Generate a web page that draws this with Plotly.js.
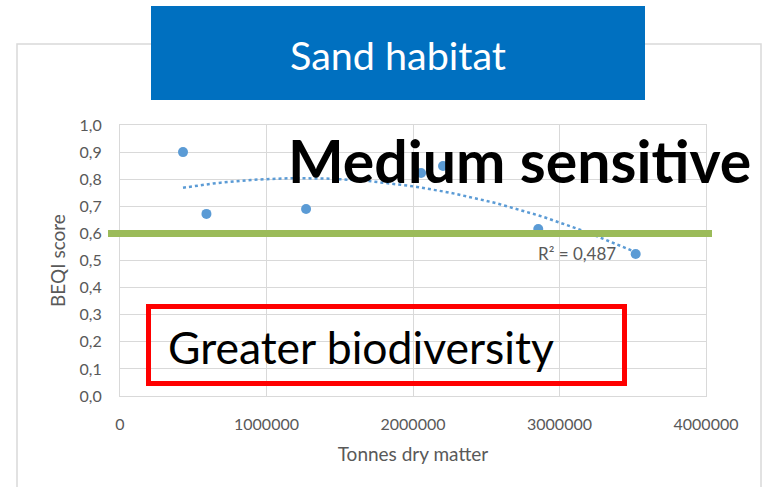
<!DOCTYPE html>
<html>
<head>
<meta charset="utf-8">
<script src="https://cdn.plot.ly/plotly-3.0.1.min.js"></script>
<style>html,body{margin:0;padding:0;background:#fff;}#chart{width:767px;height:487px;}</style>
</head>
<body>
<div id="chart"></div>
<script>
// ---- data ----
const tonnesDryMatter = [430000, 590000, 1270000, 2055000, 2205000, 2855000, 3520000];
const beqiScore       = [0.90, 0.672, 0.69, 0.823, 0.849, 0.616, 0.524];
const threshold = 0.6;
const yTickVals  = [0, 0.1, 0.2, 0.3, 0.4, 0.5, 0.6, 0.7, 0.8, 0.9, 1.0];
const yTickText  = ["0,0","0,1","0,2","0,3","0,4","0,5","0,6","0,7","0,8","0,9","1,0"];
const xTickVals  = [0, 1000000, 2000000, 3000000, 4000000];
const xTickText  = ["0","1000000","2000000","3000000","4000000"];
const chartTitle = "Sand habitat";
const r2Label = "R² = 0,487";

// ---- quadratic (order 2) least-squares trendline from the data ----
function polyFit2(xs, ys) {
  const s = xs.map(v => v / 1e6);
  let S = [0,0,0,0,0], T = [0,0,0];
  for (let i = 0; i < s.length; i++) {
    for (let k = 0; k < 5; k++) S[k] += Math.pow(s[i], k);
    for (let k = 0; k < 3; k++) T[k] += ys[i] * Math.pow(s[i], k);
  }
  const A = [[S[0],S[1],S[2],T[0]],[S[1],S[2],S[3],T[1]],[S[2],S[3],S[4],T[2]]];
  for (let c = 0; c < 3; c++) {
    for (let r = c + 1; r < 3; r++) {
      const f = A[r][c] / A[c][c];
      for (let k = c; k < 4; k++) A[r][k] -= f * A[c][k];
    }
  }
  const b = [0,0,0];
  for (let r = 2; r >= 0; r--) {
    let v = A[r][3];
    for (let k = r + 1; k < 3; k++) v -= A[r][k] * b[k];
    b[r] = v / A[r][r];
  }
  return x => { const t = x / 1e6; return b[0] + b[1]*t + b[2]*t*t; };
}
const fit = polyFit2(tonnesDryMatter, beqiScore);
const xMin = Math.min(...tonnesDryMatter), xMax = Math.max(...tonnesDryMatter);
const trendX = [], trendY = [];
for (let i = 0; i <= 60; i++) { const x = xMin + (xMax - xMin) * i / 60; trendX.push(x); trendY.push(fit(x)); }

// ---- layout geometry helpers (pixels -> paper) ----
const W = 767, H = 487, L = 120, R = 706, T = 125, B = 396;
const px = p => (p - L) / (R - L);
const py = p => (B - p) / (B - T);

const FONT = "Lato, 'Open Sans', sans-serif";
const GREY = "#595959";

const traces = [
  { x: tonnesDryMatter, y: beqiScore, type: "scatter", mode: "markers",
    marker: { color: "#5B9BD5", size: 10 }, hoverinfo: "x+y", showlegend: false },
  { x: trendX, y: trendY, type: "scatter", mode: "lines",
    line: { color: "#5B9BD5", width: 2.5, dash: "dot" }, hoverinfo: "skip", showlegend: false }
];

const layout = {
  width: W, height: H,
  margin: { l: L, r: W - R, t: T, b: H - B, pad: 0 },
  paper_bgcolor: "#ffffff", plot_bgcolor: "#ffffff",
  font: { family: FONT, color: GREY, size: 16 },
  showlegend: false,
  xaxis: {
    range: [0, 4000000], tickvals: xTickVals, ticktext: xTickText,
    showgrid: true, gridcolor: "#D9D9D9", gridwidth: 1,
    showline: true, linecolor: "#D9D9D9", linewidth: 1, mirror: true,
    zeroline: false, ticks: "", ticklabelstandoff: 14,
    tickfont: { family: FONT, size: 16, color: GREY },
    title: { text: "Tonnes dry matter", standoff: 15, font: { family: FONT, size: 19, color: GREY } }
  },
  yaxis: {
    range: [0, 1.0], tickvals: yTickVals, ticktext: yTickText,
    showgrid: true, gridcolor: "#D9D9D9", gridwidth: 1,
    showline: true, linecolor: "#D9D9D9", linewidth: 1, mirror: true,
    zeroline: false, ticks: "", ticklabelstandoff: 14,
    tickfont: { family: FONT, size: 16, color: GREY },
    title: { text: "BEQI score", standoff: 8, font: { family: FONT, size: 19, color: GREY } }
  },
  shapes: [
    // outer chart border
    { type: "rect", xref: "paper", yref: "paper", x0: px(17), x1: px(761), y0: py(44), y1: py(520),
      line: { color: "#D9D9D9", width: 1.5 }, fillcolor: "rgba(0,0,0,0)", layer: "below" },
    // title box
    { type: "rect", xref: "paper", yref: "paper", x0: px(151), x1: px(645), y0: py(100), y1: py(6),
      line: { width: 0 }, fillcolor: "#0070C0", layer: "above" },
    // threshold line
    { type: "line", xref: "paper", yref: "y", x0: px(108), x1: px(712), y0: threshold, y1: threshold,
      line: { color: "#9BBB59", width: 7 }, layer: "above" },
    // red box
    { type: "rect", xref: "paper", yref: "paper", x0: px(148.5), x1: px(624.5), y0: py(383.5), y1: py(306.5),
      line: { color: "#FF0000", width: 5 }, fillcolor: "rgba(0,0,0,0)", layer: "above" }
  ],
  annotations: [
    { text: chartTitle, xref: "paper", yref: "paper", x: px(398), y: py(54), xanchor: "center", yanchor: "middle",
      showarrow: false, font: { family: FONT, size: 39.5, color: "#ffffff" } },
    { text: "<b>Medium sensitive</b>", xref: "paper", yref: "paper", x: px(286), y: py(160), xanchor: "left", yanchor: "middle",
      showarrow: false, font: { family: FONT, size: 59, color: "#000000" } },
    { text: "Greater biodiversity", xref: "paper", yref: "paper", x: px(166), y: py(346), xanchor: "left", yanchor: "middle",
      showarrow: false, font: { family: FONT, size: 44.5, color: "#000000" } },
    { text: r2Label, xref: "paper", yref: "paper", x: px(536), y: py(253), xanchor: "left", yanchor: "middle",
      showarrow: false, font: { family: FONT, size: 17, color: GREY } }
  ]
};

Plotly.newPlot("chart", traces, layout, { displayModeBar: false, staticPlot: true });
</script>
</body>
</html>
